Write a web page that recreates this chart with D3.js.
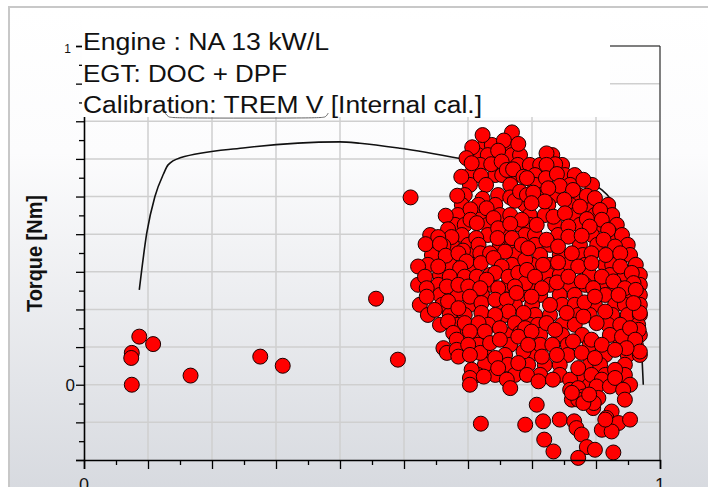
<!DOCTYPE html>
<html>
<head>
<meta charset="utf-8">
<script src="https://cdn.jsdelivr.net/npm/d3@7"></script>
<style>
html,body{margin:0;padding:0;background:#fff;}
svg{display:block;}
</style>
</head>
<body>
<div id="chart"></div>
<script>
// ---------- DATA ----------
const infoLines = ["Engine : NA 13 kW/L", "EGT: DOC + DPF", "Calibration: TREM V [Internal cal.]"];
const yTitle = "Torque [Nm]";
const xTickLabels = [[0, "0"], [1, "1"]];
const yTickLabels = [[0, "0"], [1, "1"]];
const xMajorTicks = [0,1,2,3,4,5,6,7,8,9].map(k => k/9);
const yMajorTicks = [-2,-1,0,1,2,3,4,5,6,7,8,9].map(k => k/9);

// full-load torque curve (normalized speed, normalized torque)
const fullLoadCurve = [
  [0.096,0.280],[0.109,0.448],[0.123,0.555],[0.138,0.622],[0.146,0.649],[0.167,0.670],
  [0.276,0.699],[0.444,0.717],[0.479,0.713],[0.549,0.698],[0.658,0.666],[0.753,0.634],
  [0.797,0.624],[0.881,0.595],[0.899,0.575],[0.913,0.551],[0.928,0.496],[0.939,0.437],
  [0.948,0.360],[0.958,0.251],[0.967,0.133],[0.971,0.000]
];
// partly hidden secondary curve below the info box
const hiddenCurve = [[0.141,0.802],[0.146,0.790],[0.156,0.787],[0.410,0.787],[0.420,0.790],[0.424,0.802]];

// measured operating points (isolated + outline of the cluster)
const operatingPoints = [
  [0.083,0.094],[0.082,0.079],[0.096,0.142],[0.120,0.120],[0.083,0.000],[0.185,0.027],
  [0.306,0.083],[0.345,0.056],[0.507,0.254],[0.545,0.074],[0.567,0.553],
  [0.692,0.737],[0.743,0.745],[0.729,0.721],[0.754,0.711],[0.674,0.701],[0.719,0.691],
  [0.664,0.669],[0.673,0.654],[0.707,0.651],[0.725,0.659],[0.734,0.634],[0.745,0.636],
  [0.763,0.614],[0.655,0.614],[0.689,0.617],[0.698,0.590],[0.648,0.558],[0.692,0.549],
  [0.685,0.531],[0.671,0.518],[0.699,0.521],[0.740,0.553],[0.748,0.543],[0.757,0.570],
  [0.769,0.560],[0.628,0.499],[0.671,0.487],[0.682,0.477],[0.711,0.492],[0.740,0.501],
  [0.760,0.487],[0.632,0.459],[0.638,0.436],[0.615,0.436],[0.719,0.462],[0.740,0.475],
  [0.718,0.433],[0.681,0.433],[0.743,0.433],[0.593,0.415],[0.624,0.410],[0.618,0.416],
  [0.685,0.413],[0.628,0.381],[0.658,0.396],[0.650,0.388],[0.688,0.388],[0.705,0.388],
  [0.731,0.393],[0.760,0.413],[0.766,0.369],[0.580,0.349],[0.615,0.349],[0.664,0.364],
  [0.653,0.344],[0.689,0.359],[0.711,0.374],[0.725,0.349],[0.714,0.330],[0.592,0.319],
  [0.635,0.319],[0.661,0.319],[0.682,0.319],[0.699,0.310],[0.737,0.319],[0.754,0.330],
  [0.766,0.300],[0.630,0.290],[0.650,0.295],[0.667,0.290],[0.595,0.285],[0.748,0.290],
  [0.688,0.285],[0.719,0.285],
  [0.803,0.683],[0.818,0.651],[0.803,0.649],[0.802,0.610],[0.821,0.622],[0.769,0.610],
  [0.867,0.605],[0.826,0.587],[0.849,0.575],[0.780,0.567],[0.806,0.580],[0.873,0.558],
  [0.887,0.551],[0.800,0.541],[0.834,0.546],[0.777,0.536],[0.861,0.526],[0.896,0.516],
  [0.815,0.496],[0.835,0.506],[0.873,0.489],[0.899,0.487],[0.910,0.457],[0.786,0.472],
  [0.841,0.467],[0.878,0.467],[0.803,0.428],[0.841,0.437],[0.864,0.440],[0.902,0.428],
  [0.922,0.408],[0.771,0.403],[0.823,0.408],[0.847,0.388],[0.881,0.388],[0.906,0.383],
  [0.931,0.388],[0.797,0.354],[0.823,0.361],[0.858,0.349],[0.881,0.359],[0.931,0.349],
  [0.951,0.330],[0.769,0.339],[0.783,0.319],[0.821,0.302],[0.841,0.319],[0.864,0.305],
  [0.899,0.319],[0.919,0.305],[0.954,0.300],[0.939,0.285],[0.795,0.285],[0.884,0.285],
  [0.958,0.280],[0.963,0.162],[0.965,0.212],
  [0.595,0.260],[0.632,0.246],[0.609,0.221],[0.650,0.226],[0.670,0.260],[0.690,0.241],
  [0.714,0.251],[0.734,0.251],[0.751,0.271],[0.763,0.212],[0.737,0.216],[0.690,0.212],
  [0.714,0.206],[0.632,0.187],[0.661,0.182],[0.702,0.177],[0.685,0.182],[0.748,0.182],
  [0.641,0.153],[0.647,0.133],[0.670,0.157],[0.696,0.157],[0.722,0.167],[0.757,0.153],
  [0.766,0.167],[0.624,0.108],[0.630,0.094],[0.647,0.103],[0.667,0.118],[0.688,0.094],
  [0.705,0.123],[0.722,0.133],[0.754,0.142],[0.763,0.098],[0.650,0.083],[0.670,0.088],
  [0.714,0.079],[0.719,0.049],[0.754,0.064],[0.673,0.044],[0.670,0.020],[0.670,0.000],
  [0.694,0.024],[0.734,0.015],[0.740,-0.010],[0.769,0.029],[0.689,-0.115],[0.766,-0.118],
  [0.777,0.260],[0.809,0.236],[0.838,0.212],[0.869,0.243],[0.887,0.260],[0.905,0.216],
  [0.928,0.265],[0.954,0.241],[0.890,0.182],[0.867,0.201],[0.803,0.182],[0.818,0.162],
  [0.777,0.157],[0.849,0.128],[0.881,0.133],[0.899,0.118],[0.934,0.142],[0.948,0.167],
  [0.957,0.133],[0.965,0.098],[0.942,0.108],[0.922,0.103],[0.771,0.118],[0.795,0.083],
  [0.821,0.088],[0.864,0.094],[0.887,0.079],[0.922,0.044],[0.789,0.010],[0.814,0.015],
  [0.844,0.015],[0.858,0.049],[0.881,0.029],[0.899,0.015],[0.844,-0.015],[0.858,-0.010],
  [0.867,-0.035],[0.890,-0.005],[0.913,-0.005],[0.922,0.020],[0.936,-0.015],[0.939,-0.044],
  [0.847,-0.044],[0.876,-0.044],[0.893,-0.039],[0.884,-0.069],[0.916,-0.079],[0.907,-0.098],
  [0.928,-0.113],[0.948,-0.103],[0.786,-0.059],[0.797,-0.108],[0.826,-0.103],[0.851,-0.108],
  [0.855,-0.128],[0.864,-0.147],[0.899,-0.133],[0.916,-0.138],[0.799,-0.162],[0.815,-0.197],
  [0.873,-0.184],[0.887,-0.192],[0.919,-0.200],[0.858,-0.216],
  [0.885,-0.054],[0.858,-0.044],[0.867,-0.054],[0.847,-0.024],[0.877,-0.029],[0.905,-0.103]
];
// measured operating points (dense interior of the cluster)
const operatingPointsCore = [
  [0.696,0.708],[0.708,0.708],[0.740,0.708],
  [0.684,0.678],[0.701,0.678],[0.743,0.678],[0.757,0.678],[0.813,0.678],
  [0.688,0.649],[0.753,0.649],[0.774,0.649],[0.792,0.649],[0.830,0.649],
  [0.670,0.619],[0.714,0.619],[0.726,0.619],[0.748,0.619],[0.783,0.619],[0.835,0.619],[0.852,0.619],
  [0.670,0.590],[0.740,0.590],[0.783,0.590],[0.844,0.590],[0.882,0.590],
  [0.661,0.560],[0.719,0.560],[0.792,0.560],[0.818,0.560],[0.858,0.560],
  [0.656,0.531],[0.714,0.531],[0.766,0.531],[0.806,0.531],[0.844,0.531],[0.878,0.531],[0.910,0.531],
  [0.649,0.501],[0.691,0.501],[0.722,0.501],[0.774,0.501],[0.800,0.501],[0.852,0.501],[0.887,0.501],[0.917,0.501],
  [0.644,0.472],[0.661,0.472],[0.701,0.472],[0.757,0.472],[0.774,0.472],[0.818,0.472],[0.861,0.472],[0.892,0.472],[0.925,0.472],
  [0.601,0.442],[0.656,0.442],[0.701,0.442],[0.731,0.442],[0.766,0.442],[0.783,0.442],[0.823,0.442],[0.882,0.442],[0.917,0.442],[0.934,0.442],
  [0.639,0.413],[0.667,0.413],[0.722,0.413],[0.743,0.413],[0.783,0.413],[0.809,0.413],[0.861,0.413],[0.891,0.413],[0.944,0.413],
  [0.604,0.383],[0.670,0.383],[0.748,0.383],[0.792,0.383],[0.826,0.383],[0.866,0.383],[0.917,0.383],[0.948,0.383],
  [0.597,0.354],[0.635,0.354],[0.674,0.354],[0.743,0.354],[0.778,0.354],[0.809,0.354],[0.840,0.354],[0.870,0.354],[0.905,0.354],[0.917,0.354],[0.958,0.354],
  [0.618,0.324],[0.649,0.324],[0.705,0.324],[0.771,0.324],[0.806,0.324],[0.826,0.324],[0.878,0.324],[0.913,0.324],[0.939,0.324],[0.965,0.324],
  [0.580,0.295],[0.615,0.295],[0.705,0.295],[0.736,0.295],[0.774,0.295],[0.809,0.295],[0.844,0.295],[0.870,0.295],[0.905,0.295],[0.922,0.295],[0.965,0.295],
  [0.618,0.265],[0.649,0.265],[0.691,0.265],[0.757,0.265],[0.792,0.265],[0.826,0.265],[0.852,0.265],[0.905,0.265],[0.944,0.265],[0.965,0.265],
  [0.583,0.236],[0.622,0.236],[0.670,0.236],[0.722,0.236],[0.748,0.236],[0.778,0.236],[0.830,0.236],[0.852,0.236],[0.887,0.236],[0.922,0.236],[0.939,0.236],[0.965,0.236],
  [0.597,0.206],[0.635,0.206],[0.661,0.206],[0.731,0.206],[0.783,0.206],[0.809,0.206],[0.858,0.206],[0.878,0.206],[0.917,0.206],[0.944,0.206],[0.965,0.206],
  [0.618,0.177],[0.649,0.177],[0.714,0.177],[0.774,0.177],[0.788,0.177],[0.830,0.177],[0.852,0.177],[0.910,0.177],[0.931,0.177],[0.962,0.177],
  [0.656,0.147],[0.684,0.147],[0.740,0.147],[0.792,0.147],[0.830,0.147],[0.865,0.147],[0.913,0.147],[0.944,0.147],[0.965,0.147],
  [0.684,0.118],[0.740,0.118],[0.792,0.118],[0.813,0.118],[0.840,0.118],[0.878,0.118],[0.931,0.118],[0.958,0.118],
  [0.696,0.088],[0.731,0.088],[0.774,0.088],[0.840,0.088],[0.905,0.088],[0.944,0.088],[0.965,0.088],
  [0.696,0.059],[0.736,0.059],[0.771,0.059],[0.800,0.059],[0.826,0.059],[0.878,0.059],[0.896,0.059],[0.939,0.059],
  [0.684,0.029],[0.714,0.029],[0.748,0.029],[0.792,0.029],[0.826,0.029],[0.861,0.029],[0.905,0.029],[0.939,0.029],
  [0.878,0.000],[0.948,0.000]
];

// ---------- LAYOUT ----------
const W = 708, H = 487;
const plot = {left: 84, right: 660, top: 46, bottom: 460};

const svg = d3.select("#chart").append("svg")
  .attr("width", W).attr("height", H)
  .style("font-family", "'Liberation Sans', Arial, sans-serif");

const defs = svg.append("defs");
const grad = defs.append("linearGradient").attr("id", "bg")
  .attr("x1", 0).attr("y1", 0).attr("x2", 0).attr("y2", 1);
grad.append("stop").attr("offset", "0%").attr("stop-color", "#ffffff");
grad.append("stop").attr("offset", "28%").attr("stop-color", "#fcfcfd");
grad.append("stop").attr("offset", "100%").attr("stop-color", "#d3d6dc");

// outer frame
svg.append("rect").attr("x", 9).attr("y", 7).attr("width", 760).attr("height", 520)
  .attr("fill", "url(#bg)").attr("stroke", "#c8c8c8").attr("stroke-width", 2);

const x = d3.scaleLinear().domain([0, 1]).range([plot.left, plot.right]);
const y = d3.scaleLinear().domain([-2/9, 1]).range([plot.bottom, plot.top]);

// grid
const grid = svg.append("g");
grid.selectAll(".hg").data(yMajorTicks.filter(v => v > -2/9 + 1e-6)).join("line")
  .attr("x1", plot.left).attr("x2", plot.right)
  .attr("y1", d => y(d)).attr("y2", d => y(d))
  .attr("stroke", "#cfcfcf").attr("stroke-width", 1.5);
grid.selectAll(".vg").data(xMajorTicks.filter(v => v > 1e-6 && v < 1 - 1e-6)).join("line")
  .attr("y1", plot.top).attr("y2", plot.bottom)
  .attr("x1", d => x(d)).attr("x2", d => x(d))
  .attr("stroke", "#cfcfcf").attr("stroke-width", 1.5);

// right and top frame of plot
svg.append("line").attr("x1", plot.right).attr("x2", plot.right)
  .attr("y1", plot.top).attr("y2", plot.bottom).attr("stroke", "#555").attr("stroke-width", 1.5);
svg.append("line").attr("x1", plot.left).attr("x2", plot.right)
  .attr("y1", plot.top).attr("y2", plot.top).attr("stroke", "#222").attr("stroke-width", 1.2);

// curve
const line = d3.line().x(d => x(d[0])).y(d => y(d[1])).curve(d3.curveMonotoneX);
svg.append("path").datum(fullLoadCurve).attr("d", line)
  .attr("fill", "none").attr("stroke", "#111").attr("stroke-width", 1.6);

// points
svg.append("g").selectAll("circle").data(operatingPointsCore.concat(operatingPoints)).join("circle")
  .attr("cx", d => x(d[0])).attr("cy", d => y(d[1])).attr("r", 7.5)
  .attr("fill", "#ff0000").attr("stroke", "#1a0000").attr("stroke-width", 1);

// axes
const xMinor = d3.range(0, 9).map(k => (k + 0.5) / 9);
const yMinor = d3.range(-2, 9).map(k => (k + 0.5) / 9);

svg.append("g").attr("transform", `translate(0,${plot.bottom})`)
  .call(d3.axisBottom(x).tickValues(xMajorTicks).tickSize(9).tickFormat(""));
const axBm = svg.append("g").attr("transform", `translate(0,${plot.bottom})`)
  .call(d3.axisBottom(x).tickValues(xMinor).tickSize(5).tickFormat(""));
axBm.select(".domain").remove();
svg.append("g").attr("transform", `translate(${plot.left},0)`)
  .call(d3.axisLeft(y).tickValues(yMajorTicks).tickSize(8).tickFormat(""));
const axLm = svg.append("g").attr("transform", `translate(${plot.left},0)`)
  .call(d3.axisLeft(y).tickValues(yMinor).tickSize(5).tickFormat(""));
axLm.select(".domain").remove();
svg.selectAll(".domain").attr("stroke", "#000").attr("stroke-width", 1.6);
svg.selectAll(".tick line").attr("stroke", "#000").attr("stroke-width", 1.3);

// tick labels
svg.append("g").selectAll("text").data(xTickLabels).join("text")
  .attr("x", d => x(d[0])).attr("y", 491).attr("text-anchor", "middle")
  .attr("font-size", 18).attr("fill", "#111").text(d => d[1]);
svg.append("text").attr("x", 75).attr("y", y(0) + 6).attr("text-anchor", "end")
  .attr("font-size", 17).attr("fill", "#111").text(yTickLabels[0][1]);

// info box
svg.append("rect").attr("x", 82).attr("y", 20).attr("width", 528).attr("height", 97)
  .attr("fill", "#ffffff");
svg.append("text").attr("x", 71).attr("y", 53).attr("text-anchor", "end")
  .attr("font-size", 12).attr("fill", "#111").text(yTickLabels[1][1]);
const infoBaselines = [49.5, 81.5, 113];
const infoWidths = [246, 204, 399];
svg.append("g").selectAll("text").data(infoLines).join("text")
  .attr("x", 83).attr("y", (d, i) => infoBaselines[i])
  .attr("font-size", 23).attr("fill", "#111")
  .attr("textLength", (d, i) => infoWidths[i]).attr("lengthAdjust", "spacingAndGlyphs")
  .text(d => d);
svg.append("path").datum(hiddenCurve)
  .attr("d", d3.line().x(d => x(d[0])).y(d => y(d[1])).curve(d3.curveBasis))
  .attr("fill", "none").attr("stroke", "#666").attr("stroke-width", 1);

// y title
svg.append("text").attr("transform", "translate(42,253.5) rotate(-90)")
  .attr("text-anchor", "middle").attr("font-size", 22).attr("font-weight", "bold")
  .attr("fill", "#111").attr("textLength", 117).attr("lengthAdjust", "spacingAndGlyphs")
  .text(yTitle);
</script>
</body>
</html>
